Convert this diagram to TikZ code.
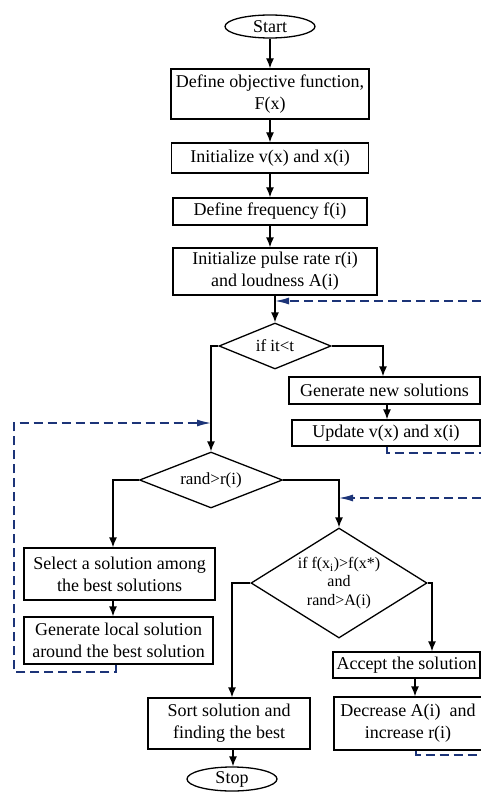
\documentclass[tikz,border=0pt]{standalone}
\usepackage{fontspec}
\setmainfont{Liberation Serif}
\usepackage{tikz}
\usetikzlibrary{shapes.geometric}
\usetikzlibrary{arrows.meta}
\tikzset{>={Latex[length=10pt,width=8pt]}}
\usepackage{xcolor}
\definecolor{loopcol}{RGB}{28,52,120}
\tikzset{
	box/.style={draw,line width=1.3pt,inner sep=0pt,align=center,
		font=\fontsize{18}{22}\selectfont},
	term/.style={ellipse,draw,line width=1.3pt,inner sep=0pt,
		minimum width=90,minimum height=23,font=\fontsize{18}{22}\selectfont},
	test/.style={diamond,draw,line width=1.3pt,inner sep=0pt,align=center,
		font=\fontsize{17}{19}\selectfont},
	flow/.style={->,line width=1.3pt},
	loopback/.style={loopcol,line width=1.4pt,dash pattern=on 9pt off 5pt},
	loopin/.style={loopback,-{Latex[length=14pt,width=7pt]}}
}

\begin{document}
\begin{tikzpicture}[x=1pt,y=-1pt]
	\useasboundingbox (0,0) rectangle (481,794);
	
	% MAIN COLUMN
	\node[term] (start) at (270,26.5) {Start};
	\node[box,minimum width=198,minimum height=50] (objf) at (270,94)
	{Define objective function,\\F(x)};
	\node[box,minimum width=197,minimum height=30] (initv) at (270,158)
	{Initialize v(x) and x(i)};
	\node[box,minimum width=194,minimum height=27] (freq) at (270,211.5)
	{Define frequency f(i)};
	\node[box,minimum width=204,minimum height=47] (pulse) at (275,271.5)
	{Initialize pulse rate r(i)\\and loudness A(i)};
	\node[test,aspect=2.4,minimum width=112,minimum height=46] (ifit) at (275,346)
	{if it<t};
	
	% UPDATE BRANCH
	\node[box,minimum width=191,minimum height=27] (gennew) at (384.5,390.5)
	{Generate new solutions};
	\node[box,minimum width=188,minimum height=26] (update) at (386,433)
	{Update v(x) and x(i)};
	
	% LOCAL SEARCH
	\node[test,aspect=2.5,minimum width=143,minimum height=56] (rand) at (211,480)
	{rand>r(i)};
	\node[box,minimum width=191,minimum height=52] (select) at (119.5,574)
	{Select a solution among\\the best solutions};
	\node[box,minimum width=189,minimum height=47] (genlocal) at (118.5,640.5)
	{Generate local solution\\around the best solution};
	
	% ACCEPTANCE
	\node[test,aspect=1.6,minimum width=176,minimum height=110,
	font=\fontsize{16}{18.5}\selectfont] (cond) at (339,583)
	{if f(x\textsubscript{i})>f(x*)\\and\\rand>A(i)};
	\node[box,minimum width=162,minimum height=51] (sort) at (229,723.5)
	{Sort solution and\\finding the best};
	\node[box,minimum width=147,minimum height=26] (accept) at (406.5,665)
	{Accept the solution};
	\node[box,minimum width=148,minimum height=53] (decrease) at (408,723.5)
	{Decrease A(i)~ and\\increase r(i)};
	\node[term,minimum height=24] (stop) at (232,779) {Stop};
	
	% LOOP ENDS
	\coordinate (e1) at (481,301);
	\coordinate (e2) at (481,453);
	\coordinate (e3) at (481,498);
	\coordinate (e4) at (481,755);
	\coordinate (l1) at (14,672);
	\coordinate (l2) at (14,423);
	
	% ARROWS
	\draw[flow] (start) -- (objf);
	\draw[flow] (objf) -- (initv);
	\draw[flow] (initv) -- (freq);
	\draw[flow] (freq.south) -- (freq.south |- pulse.north);
	\draw[flow] (pulse) -- (ifit);
	\draw[flow] (ifit.east) -| ([xshift=-1.5]gennew.north);
	\draw[flow] ([xshift=2.5]gennew.south) -- ([xshift=1]update.north);
	\draw[flow] (ifit.west) -| (rand.north);
	\draw[flow] (rand.west) -| ([xshift=-6.5]select.north);
	\draw[flow] ([xshift=-6.5]select.south) -- ([xshift=-5.5]genlocal.north);
	\draw[flow] (rand.east) -| (cond.north);
	\draw[flow] (cond.west) -| ([xshift=3]sort.north);
	\draw[flow] (cond.east) -| ([xshift=25.5]accept.north);
	\draw[flow] ([xshift=8.5]accept.south) -- ([xshift=7]decrease.north);
	\draw[flow] ([xshift=4]sort.south) -- ([xshift=1]stop.north);
	
	% DASHED LOOPS
	\draw[loopin] (e1) -- (e1 -| pulse.south);
	\draw[loopback] ([xshift=1]update.south) |- (e2);
	\draw[loopin] (e3) -- (e3 -| cond.north);
	\draw[loopback] ([xshift=8]decrease.south) |- (e4);
	\draw[loopin] ([xshift=-2.5]genlocal.south) |- (l1) -- (l2) -- (l2 -| rand.north);
\end{tikzpicture}
\end{document}
